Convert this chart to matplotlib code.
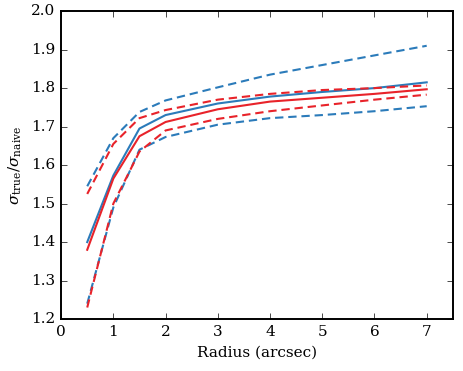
import matplotlib
matplotlib.use("Agg")
import matplotlib.pyplot as plt

plt.style.use("classic")
plt.rcParams["font.family"] = ["DejaVu Serif"]
plt.rcParams["mathtext.fontset"] = "dejavuserif"
plt.rcParams["figure.facecolor"] = "white"
plt.rcParams["axes.linewidth"] = 1.4

radius = [0.5, 1.0, 1.5, 2.0, 3.0, 4.0, 5.0, 6.0, 7.0]

blue_mid = [1.400, 1.573, 1.695, 1.730, 1.760, 1.778, 1.790, 1.800, 1.815]
blue_hi = [1.545, 1.670, 1.738, 1.768, 1.802, 1.835, 1.860, 1.885, 1.910]
blue_lo = [1.240, 1.490, 1.640, 1.673, 1.705, 1.722, 1.730, 1.740, 1.753]

red_mid = [1.380, 1.565, 1.675, 1.712, 1.745, 1.765, 1.775, 1.785, 1.797]
red_hi = [1.525, 1.655, 1.722, 1.743, 1.770, 1.785, 1.795, 1.800, 1.807]
red_lo = [1.230, 1.500, 1.635, 1.690, 1.720, 1.740, 1.755, 1.770, 1.783]

blue = "#2b7bba"
red = "#e8232a"

fig = plt.figure(figsize=(4.63, 3.71), dpi=100)
ax = fig.add_axes([0.132, 0.140, 0.846, 0.830])

dash = (6, 3.5)
ax.plot(radius, blue_mid, color=blue, lw=1.5)
ax.plot(radius, blue_hi, color=blue, lw=1.5, ls="--", dashes=dash)
ax.plot(radius, blue_lo, color=blue, lw=1.5, ls="--", dashes=dash)
ax.plot(radius, red_mid, color=red, lw=1.5)
ax.plot(radius, red_hi, color=red, lw=1.5, ls="--", dashes=dash)
ax.plot(radius, red_lo, color=red, lw=1.5, ls="--", dashes=dash)

ax.set_xlim(0, 7.5)
ax.set_ylim(1.2, 2.0)
ax.set_xticks(range(0, 8))
ax.set_yticks([1.2, 1.3, 1.4, 1.5, 1.6, 1.7, 1.8, 1.9, 2.0])
ax.tick_params(labelsize=11)
ax.set_xlabel("Radius (arcsec)", fontsize=11)
ax.set_ylabel(r"$\sigma_{\rm true}/\sigma_{\rm naive}$", fontsize=11)

fig.savefig("out.png", dpi=100)
